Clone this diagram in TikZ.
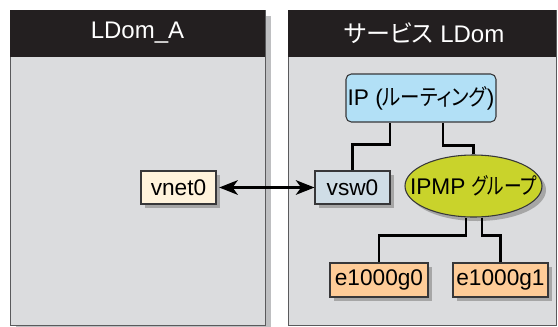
\documentclass[tikz,border=0pt]{standalone}
\usepackage{fontspec}
\setmainfont{Liberation Sans}
\newfontfamily\jpfont[RawFeature=+palt]{Noto Sans CJK JP}
\usetikzlibrary{arrows.meta,shadows,shapes.geometric}

\definecolor{panelgray}{RGB}{219,220,222}
\definecolor{paneledge}{RGB}{90,90,92}
\definecolor{panelshadow}{RGB}{190,191,193}
\definecolor{headblack}{RGB}{35,31,32}
\definecolor{boxedge}{RGB}{55,55,57}
\definecolor{vnetfill}{RGB}{255,243,220}
\definecolor{vswfill}{RGB}{207,221,230}
\definecolor{ipfill}{RGB}{178,224,246}
\definecolor{ipmpfill}{RGB}{201,211,43}
\definecolor{nicfill}{RGB}{254,204,152}

% narrow kana as in the boxes
\newcommand{\kana}[2][0.82]{\scalebox{#1}[1]{\jpfont #2}}

\tikzset{every picture/.style={line width=0.75pt}}
\tikzset{
  title/.style={text=white, font=\fontsize{18}{21}\selectfont, inner sep=0pt},
  devbox/.style={draw=boxedge, line width=0.8pt, inner sep=0pt,
    font=\fontsize{17}{20}\selectfont},
  shadowed/.style={drop shadow={shadow xshift=3pt, shadow yshift=-3pt,
    fill=black!40, opacity=0.8}},
  wire/.style={line width=1.7pt, black},
  link/.style={line width=1.6pt, black,
    {Stealth[length=14pt,width=11pt,inset=4pt]}-{Stealth[length=14pt,width=11pt,inset=4pt]}}
}

\begin{document}
\begin{tikzpicture}[x=0.75pt,y=0.75pt,yscale=-1,xscale=1]
\useasboundingbox (0,0) rectangle (558,326);

%Shape: Rectangle
\fill [panelshadow] (16,16) rectangle (271,332);
\draw [draw=paneledge, fill=panelgray] (10,10) rectangle (265,325);
\fill [headblack] (10,10) rectangle (265,57);
%Shape: Rectangle
\draw [draw=paneledge, fill=panelgray] (288,10) rectangle (556,325);
\fill [headblack] (288,10) rectangle (556,57);

% Text Node
\node [title] (ttlA) at (137.5,33) {LDom\_A};
% Text Node
\node [title] (ttlS) at (424,33) {{\jpfont サービス} LDom};

% Boxes
\node [devbox, shadowed, fill=vnetfill, minimum width=56.25pt, minimum height=24.75pt] (vnet) at (178.5,187.5) {vnet0};
\node [devbox, shadowed, fill=vswfill, minimum width=56.25pt, minimum height=24.75pt] (vsw) at (352.5,187.5) {vsw0};
\node [devbox, fill=ipfill, rounded corners=4pt, minimum width=112.5pt, minimum height=36pt] (ip) at (421,98) {\makebox[0pt]{IP (\kana[0.86]{ルーティング})}};
\node [devbox, shadowed, ellipse, fill=ipmpfill, minimum width=102.75pt, minimum height=46.5pt] (ipmp) at (473.5,186) {\makebox[0pt]{IPMP \kana[0.78]{グループ}}};
\node [devbox, shadowed, fill=nicfill, minimum width=73.5pt, minimum height=25.5pt] (nic0) at (379,280) {e1000g0};
\node [devbox, shadowed, fill=nicfill, minimum width=71.25pt, minimum height=25.5pt] (nic1) at (500.5,280) {e1000g1};

%Straight Lines
\draw [wire] (vsw.north) -- ++(0,-26) -| ([xshift=-23.25pt]ip.south);
\draw [wire] (ipmp.north) -- ++(0,-9) -| ([xshift=16.5pt]ip.south);
\draw [wire] (nic0.north) -- ++(0,-27) -| ([xshift=-5.6pt]ipmp.south);
\draw [wire] (nic1.north) -- ++(0,-27) -| ([xshift=6.4pt]ipmp.south);

%Arrow
\draw [link, shorten <=2pt] (vnet.east) -- (vsw.west);

\end{tikzpicture}
\end{document}
